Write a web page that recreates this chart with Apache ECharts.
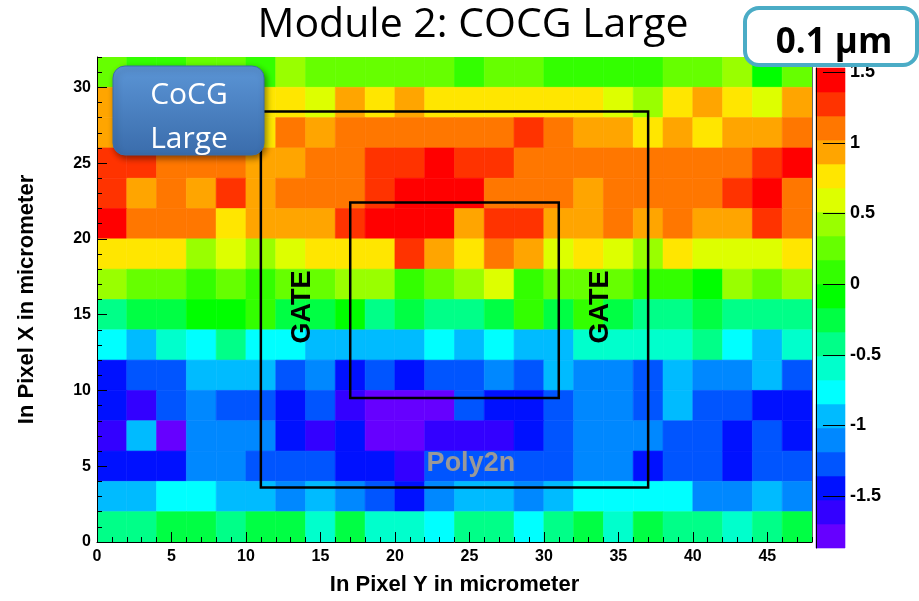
<!DOCTYPE html>
<html>
<head>
<meta charset="utf-8">
<title>Module 2: COCG Large</title>
<script src="https://cdn.jsdelivr.net/npm/echarts@6/dist/echarts.min.js"></script>
<style>
  html, body { margin: 0; padding: 0; background: #ffffff; }
  #chart { width: 919px; height: 601px; }
</style>
</head>
<body>
<div id="chart"></div>
<script>
// Bin size of the pixel map, in micrometer
const binWidth = 2;

// Lower bin edges along "In Pixel Y" (horizontal axis)
const binsPixelY = [0, 2, 4, 6, 8, 10, 12, 14, 16, 18, 20, 22, 24, 26, 28, 30, 32, 34, 36, 38, 40, 42, 44, 46];

// Lower bin edges along "In Pixel X" (vertical axis), top row first
const binsPixelX = [30, 28, 26, 24, 22, 20, 18, 16, 14, 12, 10, 8, 6, 4, 2, 0];

// Measured deviation in each bin (0.1 µm units), one row per binsPixelX entry
const deviation = [
  [0.26, 0.09, 0.09, 0.26, 0.26, 0.09, 0.43, 0.26, 0.26, 0.26, 0.26, 0.26, 0.09, 0.26, 0.26, 0.09, 0.09, 0.09, 0.09, 0.26, 0.26, 0.43, -0.09, 0.26],
  [0.94, 0.94, 0.77, 0.94, 0.94, 0.77, 0.77, 0.60, 0.94, 0.77, 0.94, 0.77, 0.77, 0.77, 0.77, 0.77, 0.77, 0.60, 0.43, 0.77, 0.94, 0.77, 0.60, 0.94],
  [0.94, 1.11, 1.11, 0.94, 1.11, 0.77, 1.11, 0.94, 1.11, 1.11, 1.11, 1.11, 1.11, 1.11, 1.28, 1.11, 0.94, 0.94, 0.77, 0.94, 0.77, 0.94, 0.94, 1.11],
  [1.28, 1.28, 1.11, 1.11, 1.11, 0.94, 0.94, 1.11, 1.11, 1.28, 1.28, 1.45, 1.28, 1.28, 1.11, 1.11, 1.11, 1.11, 1.11, 1.11, 1.11, 1.11, 1.28, 1.45],
  [1.28, 0.94, 1.11, 0.94, 1.28, 0.94, 1.11, 1.11, 1.11, 1.28, 1.45, 1.45, 1.45, 1.11, 1.11, 1.11, 0.94, 1.11, 1.11, 1.11, 1.11, 1.28, 1.45, 1.11],
  [1.45, 1.11, 1.11, 1.11, 0.77, 0.94, 0.94, 0.94, 1.28, 1.45, 1.45, 1.45, 0.94, 1.28, 1.28, 0.94, 0.94, 1.11, 0.94, 1.11, 0.94, 0.94, 1.28, 1.11],
  [0.77, 0.77, 0.77, 0.43, 0.60, 0.43, 0.60, 0.77, 0.77, 0.77, 1.28, 0.94, 0.77, 1.11, 0.94, 0.60, 0.77, 0.60, 0.43, 0.77, 0.60, 0.60, 0.60, 0.77],
  [0.43, 0.26, 0.26, 0.09, 0.26, 0.09, 0.26, 0.26, 0.43, 0.43, 0.09, 0.26, 0.43, 0.60, 0.09, 0.26, 0.26, 0.26, 0.09, 0.09, -0.09, 0.43, 0.26, 0.43],
  [-0.43, -0.26, -0.26, -0.09, -0.09, 0.09, -0.26, -0.26, -0.09, -0.43, -0.26, -0.43, -0.43, -0.26, 0.09, -0.26, 0.09, -0.26, -0.43, -0.43, -0.26, -0.43, -0.43, -0.43],
  [-0.77, -0.94, -0.60, -0.77, -0.43, -0.77, -0.77, -0.94, -0.94, -0.94, -0.94, -0.77, -0.94, -0.77, -0.94, -0.94, -0.60, -0.60, -0.60, -0.60, -0.43, -0.77, -0.94, -0.60],
  [-1.45, -1.28, -1.28, -0.94, -0.94, -0.94, -1.28, -1.11, -1.45, -1.28, -1.45, -1.28, -1.28, -1.11, -1.28, -0.94, -1.11, -1.11, -1.28, -0.94, -1.11, -1.11, -0.94, -1.28],
  [-1.45, -1.62, -1.28, -1.11, -1.28, -1.28, -1.45, -1.28, -1.62, -1.79, -1.79, -1.79, -1.28, -1.45, -1.45, -1.28, -1.11, -1.11, -1.28, -0.94, -1.28, -1.28, -1.45, -1.45],
  [-1.62, -0.94, -1.79, -1.11, -1.11, -1.11, -1.45, -1.62, -1.45, -1.79, -1.79, -1.62, -1.62, -1.62, -1.45, -1.28, -1.11, -1.11, -1.11, -1.28, -1.28, -1.45, -1.28, -1.45],
  [-1.45, -1.45, -1.45, -1.11, -1.11, -1.28, -1.28, -1.28, -1.45, -1.45, -1.62, -1.28, -1.28, -1.28, -1.28, -1.28, -1.11, -1.11, -1.45, -1.28, -1.28, -1.45, -1.28, -1.28],
  [-0.94, -0.94, -0.77, -0.77, -0.94, -0.94, -1.11, -0.94, -1.11, -1.28, -1.45, -1.11, -0.94, -0.94, -1.11, -0.94, -0.77, -0.77, -0.77, -0.77, -1.11, -1.11, -0.94, -1.11],
  [-0.43, -0.43, -0.26, -0.26, -0.43, -0.26, -0.26, -0.60, -0.26, -0.60, -0.60, -0.77, -0.43, -0.43, -0.77, -0.43, -0.26, -0.60, -0.26, -0.43, -0.43, -0.60, -0.43, -0.26]
];

// Colour palette: 20 contour bands between the edges below
const bandEdges = [-1.87, -1.70, -1.53, -1.36, -1.19, -1.02, -0.85, -0.68, -0.51, -0.34, -0.17,
                   0.00, 0.17, 0.34, 0.51, 0.68, 0.85, 1.02, 1.19, 1.36, 1.53];
const bandColors = ['#6600ff', '#3300ff', '#0011ff', '#0055ff', '#0088ff', '#00bbff', '#00ffff',
                    '#00ffcc', '#00ff88', '#00ff44', '#00ff00', '#33ff00', '#66ff00', '#99ff00',
                    '#ddff00', '#ffe600', '#ffa500', '#ff7700', '#ff3300', '#ff0000'];
const paletteTicks = [-1.5, -1, -0.5, 0, 0.5, 1, 1.5];

// Gate outlines as [y0, x0, y1, x1] in micrometer
const gateOutlines = [[11, 3.6, 37, 28.4], [17, 9.5, 31, 22.4]];
// Annotation anchors [y, x]
const gateLabels = [[13.8, 15.5], [33.8, 15.5]];
const polyLabel = [[25.1, 5.2]];

const chart = echarts.init(document.getElementById('chart'), null, { renderer: 'canvas' });

const cells = [];
binsPixelX.forEach((px, r) => {
  binsPixelY.forEach((py, c) => { cells.push([py, px, deviation[r][c]]); });
});

const pieces = bandColors.map((color, i) => ({ gte: bandEdges[i], lt: bandEdges[i + 1] + (i === bandColors.length - 1 ? 1 : 0), color }));
const bands = bandColors.map((c, i) => [0, bandEdges[i], 1, bandEdges[i + 1]]);
const paletteTickData = paletteTicks.map(v => [1, v]);

const ROOT_FONT = '"Liberation Sans", Arial, Helvetica, sans-serif';
const SLIDE_FONT = '"Open Sans", "Noto Sans", sans-serif';
const tickLabel = { color: '#000', fontWeight: 'bold', fontFamily: ROOT_FONT, fontSize: 16 };
const titleStyle = { color: '#000', fontWeight: 'bold', fontFamily: ROOT_FONT, fontSize: 22 };

function rectBetween(api, x0, y0, x1, y1) {
  const a = api.coord([x0, y1]);
  const b = api.coord([x1, y0]);
  return { x: a[0], y: a[1], width: b[0] - a[0], height: b[1] - a[1] };
}

const option = {
  animation: false,
  grid: [
    { left: 97, top: 57, width: 715, height: 490 },
    { left: 816, top: 68, width: 29, height: 480 }
  ],
  visualMap: {
    type: 'piecewise', show: false, seriesIndex: 0, dimension: 2, pieces
  },
  xAxis: [
    {
      gridIndex: 0, type: 'value', min: 0, max: 48, interval: 5, position: 'bottom', z: 10,
      axisLine: { show: true, lineStyle: { color: '#000', width: 1 } },
      axisTick: { show: true, inside: true, length: 10, lineStyle: { color: '#000' } },
      axisLabel: Object.assign({ margin: 7, showMaxLabel: false }, tickLabel),
      splitLine: { show: false },
      name: 'In Pixel Y in micrometer', nameLocation: 'middle', nameGap: 32,
      nameTextStyle: titleStyle
    },
    {
      gridIndex: 0, type: 'value', min: 0, max: 48, interval: 1, position: 'bottom', z: 10,
      axisLine: { show: false },
      axisTick: { show: true, inside: true, length: 5, lineStyle: { color: '#000' } },
      axisLabel: { show: false }, splitLine: { show: false }
    },
    { gridIndex: 1, type: 'value', min: 0, max: 1, show: false }
  ],
  yAxis: [
    {
      gridIndex: 0, type: 'value', min: 0, max: 32, interval: 5, position: 'left', z: 10,
      axisLine: { show: true, lineStyle: { color: '#000', width: 1 } },
      axisTick: { show: true, inside: true, length: 10, lineStyle: { color: '#000' } },
      axisLabel: Object.assign({ margin: 6, showMaxLabel: false }, tickLabel),
      splitLine: { show: false },
      name: 'In Pixel X in micrometer', nameLocation: 'middle', nameGap: 59,
      nameTextStyle: titleStyle
    },
    {
      gridIndex: 0, type: 'value', min: 0, max: 32, interval: 1, position: 'left', z: 10,
      axisLine: { show: false },
      axisTick: { show: true, inside: true, length: 5, lineStyle: { color: '#000' } },
      axisLabel: { show: false }, splitLine: { show: false }
    },
    {
      gridIndex: 0, type: 'value', min: 0, max: 32, position: 'right', z: 10,
      axisLine: { show: true, lineStyle: { color: '#666', width: 1 } },
      axisTick: { show: false }, axisLabel: { show: false }, splitLine: { show: false }
    },
    {
      gridIndex: 1, type: 'value', min: -1.87, max: 1.53, position: 'right', z: 10,
      axisLine: { show: true, lineStyle: { color: '#000', width: 1 } },
      axisTick: { show: false },
      axisLabel: Object.assign({ margin: 5, customValues: paletteTicks }, tickLabel, { fontSize: 18 }),
      splitLine: { show: false }
    }
  ],
  series: [
    {
      name: 'deviation', type: 'custom', xAxisIndex: 0, yAxisIndex: 0, z: 2, clip: true,
      data: cells,
      renderItem(params, api) {
        const x0 = api.value(0), y0 = api.value(1);
        const color = api.visual('color');
        return {
          type: 'rect',
          shape: rectBetween(api, x0, y0, x0 + binWidth, y0 + binWidth),
          style: { fill: color, stroke: color, lineWidth: 0.6 }
        };
      }
    },
    {
      name: 'gates', type: 'custom', xAxisIndex: 0, yAxisIndex: 0, z: 3,
      data: gateOutlines,
      renderItem(params, api) {
        return {
          type: 'rect',
          shape: rectBetween(api, api.value(0), api.value(1), api.value(2), api.value(3)),
          style: { fill: 'none', stroke: '#000', lineWidth: 2.5 }
        };
      }
    },
    {
      name: 'gate labels', type: 'custom', xAxisIndex: 0, yAxisIndex: 0, z: 4,
      data: gateLabels,
      renderItem(params, api) {
        const p = api.coord([api.value(0), api.value(1)]);
        return {
          type: 'text', x: p[0], y: p[1], rotation: Math.PI / 2,
          style: { text: 'GATE', fill: '#000', font: 'bold 27px ' + ROOT_FONT, align: 'center', verticalAlign: 'middle' }
        };
      }
    },
    {
      name: 'poly label', type: 'custom', xAxisIndex: 0, yAxisIndex: 0, z: 4,
      data: polyLabel,
      renderItem(params, api) {
        const p = api.coord([api.value(0), api.value(1)]);
        return {
          type: 'text', x: p[0], y: p[1],
          style: { text: 'Poly2n', fill: '#999999', font: 'bold 27px ' + ROOT_FONT, align: 'center', verticalAlign: 'middle' }
        };
      }
    },
    {
      name: 'palette', type: 'custom', xAxisIndex: 2, yAxisIndex: 3, z: 2,
      data: bands,
      renderItem(params, api) {
        const color = bandColors[params.dataIndex];
        return {
          type: 'rect',
          shape: rectBetween(api, api.value(0), api.value(1), api.value(2), api.value(3)),
          style: { fill: color, stroke: color, lineWidth: 0.6 }
        };
      }
    },
    {
      // tick marks drawn across the right part of the palette
      name: 'palette ticks', type: 'custom', xAxisIndex: 2, yAxisIndex: 3, z: 6,
      data: paletteTickData,
      renderItem(params, api) {
        const end = api.coord([api.value(0), api.value(1)]);
        const start = api.coord([0.24, api.value(1)]);
        return {
          type: 'line',
          shape: { x1: start[0], y1: Math.round(start[1]) + 0.5, x2: end[0], y2: Math.round(end[1]) + 0.5 },
          style: { stroke: '#000', lineWidth: 1 }
        };
      }
    }
  ],
  graphic: [
    {
      type: 'text', x: 473, y: 25, z: 100,
      style: { text: 'Module 2: COCG Large', font: '41px ' + SLIDE_FONT, fill: '#000', align: 'center', verticalAlign: 'middle' }
    },
    {
      type: 'rect', x: 113, y: 66, z: 100,
      shape: { width: 151, height: 89, r: 12 },
      style: {
        fill: new echarts.graphic.LinearGradient(0, 0, 0, 1, [
          { offset: 0, color: '#5b95d6' }, { offset: 1, color: '#3a6cab' }
        ]),
        stroke: '#3d6ea8', lineWidth: 1,
        shadowBlur: 6, shadowOffsetX: 2, shadowOffsetY: 3, shadowColor: 'rgba(0,0,0,0.45)'
      }
    },
    {
      type: 'text', x: 189, y: 95, z: 101,
      style: { text: 'CoCG', font: '30px ' + SLIDE_FONT, fill: '#fff', align: 'center', verticalAlign: 'middle' }
    },
    {
      type: 'text', x: 189, y: 139, z: 101,
      style: { text: 'Large', font: '30px ' + SLIDE_FONT, fill: '#fff', align: 'center', verticalAlign: 'middle' }
    },
    {
      type: 'rect', x: 745, y: 8, z: 100,
      shape: { width: 172, height: 57, r: 14 },
      style: { fill: '#fff', stroke: '#4bacc6', lineWidth: 4 }
    },
    {
      type: 'text', x: 834, y: 43, z: 101,
      style: { text: '0.1 µm', font: 'bold 35px ' + SLIDE_FONT, fill: '#000', align: 'center', verticalAlign: 'middle' }
    }
  ]
};

chart.setOption(option);
</script>
</body>
</html>
